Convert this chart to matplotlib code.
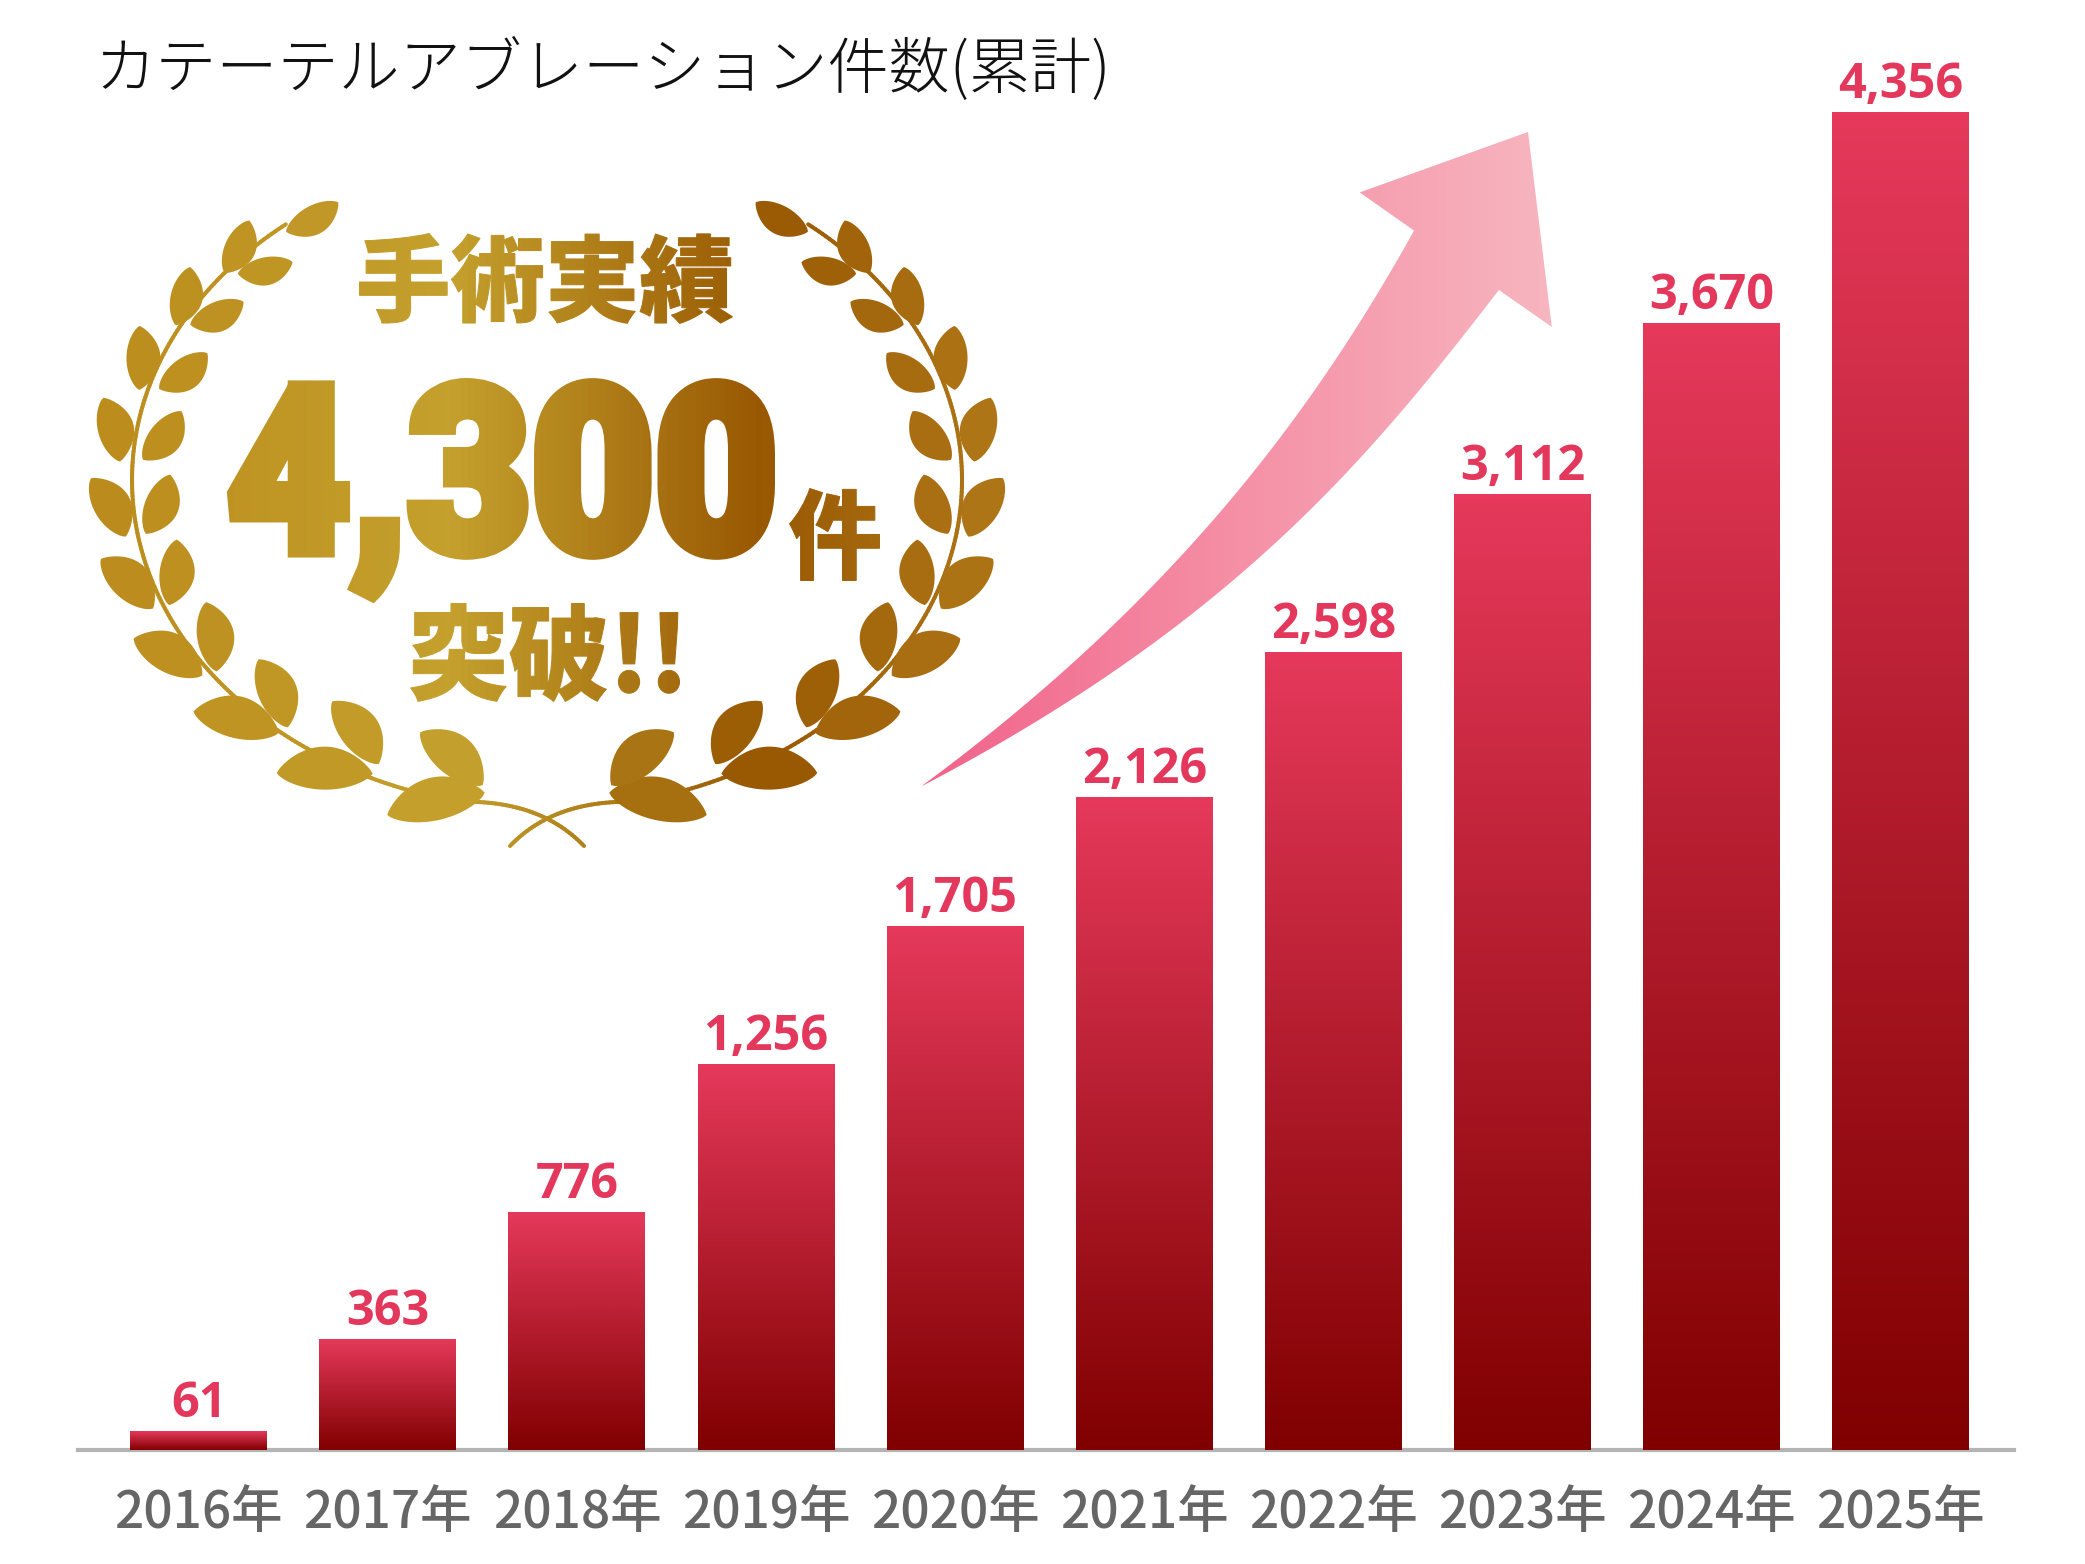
import matplotlib
matplotlib.use("Agg")
import matplotlib.pyplot as plt
import numpy as np
from matplotlib import patheffects
from matplotlib.collections import LineCollection
from matplotlib.colors import LinearSegmentedColormap, to_rgb
from matplotlib.font_manager import FontProperties
from matplotlib.patches import Polygon
from matplotlib.textpath import TextPath
from matplotlib.transforms import Affine2D, Bbox

W, H, DPI = 2085, 1564, 100

# chart data
years = ["2016年", "2017年", "2018年", "2019年", "2020年",
         "2021年", "2022年", "2023年", "2024年", "2025年"]
cases = [61, 363, 776, 1256, 1705, 2126, 2598, 3112, 3670, 4356]

title = "カテーテルアブレーション件数(累計)"
badge_top = "手術実績"
badge_num = "4,300"
badge_unit = "件"
badge_bottom = "突破!!"

plt.rcParams["font.family"] = ["Noto Sans CJK JP", "DejaVu Sans"]

# gold gradient across the badge (pixel x -> colour)
gold_x = [91, 450, 760, 1003]
gold_c = [to_rgb(c) for c in ["#bb8b1c", "#c4a02d", "#985802", "#b07818"]]


def gold(xv):
    return tuple(float(np.interp(xv, gold_x, [c[i] for c in gold_c])) for i in range(3))


class GoldFill(patheffects.AbstractPathEffect):
    """stretch glyphs vertically around the baseline and paint them in gold strips"""

    def __init__(self, sy, ya, lw_px, strip=6):
        super().__init__()
        self.sy, self.ya, self.lw, self.strip = sy, ya, lw_px, strip

    def draw_path(self, renderer, gc, tpath, affine, rgbFace=None):
        aff = affine + Affine2D().translate(0, -self.ya).scale(1, self.sy).translate(0, self.ya)
        for x0 in range(60, 1060, self.strip):
            c = gold(x0 + self.strip / 2)
            gc0 = renderer.new_gc()
            gc0.copy_properties(gc)
            gc0.set_foreground(c)
            gc0.set_linewidth(self.lw * 72 / DPI)
            gc0.set_joinstyle("miter")
            gc0.set_clip_rectangle(Bbox([[x0, 0], [x0 + self.strip, H]]))
            renderer.draw_path(gc0, tpath, aff, c)
            gc0.restore()


fig = plt.figure(figsize=(W / DPI, H / DPI), dpi=DPI)
deco = fig.add_axes([0, 0, 1, 1])
deco.axis("off")

ax = fig.add_axes([77.7 / W, (H - 1450) / H, (2014 - 77.7) / W, 1371.9 / H])
ax.patch.set_alpha(0)

# ---- bars with vertical gradient
x = np.arange(len(cases))
bars = ax.bar(x, cases, width=0.724, color="#b31c2d", zorder=2)
bar_cmap = LinearSegmentedColormap.from_list("bar", ["#800000", "#e6395b"])
grad = np.linspace(0, 1, 256).reshape(-1, 1)
for rect in bars:
    x0, w, h = rect.get_x(), rect.get_width(), rect.get_height()
    im = ax.imshow(grad, extent=[x0, x0 + w, 0, h], origin="lower",
                   aspect="auto", cmap=bar_cmap, zorder=3)
    im.set_clip_path(rect)

for xi, v in zip(x, cases):
    ax.annotate(f"{v:,}", (xi, v), xytext=(0, 10), textcoords="offset points",
                ha="center", va="baseline", fontsize=35, color="#e3385c",
                fontfamily=["Open Sans", "Noto Sans", "DejaVu Sans"],
                fontweight="bold", zorder=4)

ax.set_xlim(-0.64, 9.6)
ax.set_ylim(0, 4467)
for s in ["left", "right", "top"]:
    ax.spines[s].set_visible(False)
ax.spines["bottom"].set_color("#b4b4b4")
ax.spines["bottom"].set_linewidth(3)
ax.set_yticks([])
ax.set_xticks(x, years)
ax.tick_params(axis="x", length=0, pad=27, labelsize=37, labelcolor="#666666")
for lab in ax.get_xticklabels():
    lab.set_fontweight("medium")

# ---- title
deco.text(94, 88, title, fontsize=44, color="#111111", ha="left", va="baseline",
          fontweight="light")

# ---- pink arrow
up_pts = np.array([(921.7, 785.6), (999.7, 727), (1095, 640), (1186, 553.6),
                   (1255.6, 467), (1351, 337), (1413.9, 230.6)])
lo_pts = np.array([(1498.4, 290), (1429, 380), (1351, 467), (1264, 553.6),
                   (1156, 640), (1030, 727), (952, 770), (921.7, 785.6)])


def smooth_edge(pts, n=60):
    ys = pts[:, 1]
    coef = np.polyfit(ys, pts[:, 0], 3)
    yy = np.linspace(ys[0], ys[-1], n)
    return np.column_stack([np.polyval(coef, yy), yy])


head = np.array([(1359.7, 192.4), (1528, 132), (1551.8, 326.9)])
arrow_verts = np.vstack([smooth_edge(up_pts), head, smooth_edge(lo_pts)])
arrow = Polygon(arrow_verts, closed=True, fc="none", ec="none")
deco.add_patch(arrow)
arrow_cmap = LinearSegmentedColormap.from_list("arrow", ["#f1628a", "#f590a6", "#f7b6c0"])
aim = deco.imshow(np.linspace(0, 1, 256).reshape(1, -1), extent=[920, 1556, 800, 128],
                  aspect="auto", cmap=arrow_cmap, zorder=1)
aim.set_clip_path(arrow)

# ---- laurel wreath
CX, CY, RA, RB = 547, 480, 415, 329


def ell(phi, rho=1.0):
    p = np.radians(phi)
    return CX + rho * RA * np.cos(p), CY - rho * RB * np.sin(p)


def leaf_poly(cx, cy, ang, L, Wd):
    t = np.linspace(-1, 1, 40)
    half = 0.5 * Wd * (1 - t ** 2) ** 0.8
    bend = 0.12 * Wd * (1 - t ** 2)
    along = t * L / 2
    xs = np.concatenate([along, along[::-1]])
    ys = np.concatenate([half + bend, (-half + bend)[::-1]])
    ca, sa = np.cos(ang), np.sin(ang)
    return np.column_stack([cx + xs * ca - ys * sa, cy + xs * sa + ys * ca])


def leaf_dir(phi, alpha, side):
    p = np.radians(phi)
    t = np.array([RA * np.sin(p), RB * np.cos(p)])
    t /= np.hypot(*t)
    n = np.array([RB * np.cos(p), -RA * np.sin(p)])
    n /= np.hypot(*n)
    a = np.radians(alpha)
    d = np.cos(a) * t + side * np.sin(a) * n
    return np.arctan2(d[1], d[0])


leaf_phi = [136.5, 147.5, 159.3, 171.7, 184.5, 197.3, 210.5, 224.5, 239, 254.8]
rho_out = [1.03, 1.04, 1.05, 1.06, 1.06, 1.06, 1.06, 1.05, 1.04, 1.02]
rho_in = [0.936, 0.943, 0.937, 0.937, 0.94, 0.944, 0.939, 0.925, 0.896, 0.878]
len_out = [58, 60, 64, 66, 68, 72, 78, 88, 96, 100]
wid_out = [31, 32, 34, 36, 37, 39, 40, 42, 43, 43]
len_in = [56, 58, 60, 62, 64, 66, 70, 74, 78, 82]
wid_in = [28, 30, 32, 33, 34, 35, 37, 39, 40, 41]

leaves = []
cx, cy = ell(125.3, 0.979)
leaves.append(leaf_poly(cx, cy, leaf_dir(125.3, 0, 1), 60, 29))
for i, ph in enumerate(leaf_phi):
    cx, cy = ell(ph, rho_out[i])
    leaves.append(leaf_poly(cx, cy, leaf_dir(ph, 25, 1), len_out[i], wid_out[i]))
    cx, cy = ell(ph, rho_in[i])
    leaves.append(leaf_poly(cx, cy, leaf_dir(ph, 28, -1), len_in[i], wid_in[i]))

for lp in leaves:
    for pts in (lp, np.column_stack([2 * CX - lp[:, 0], lp[:, 1]])):
        deco.add_patch(Polygon(pts, closed=True, fc=gold(pts[:, 0].mean()), ec="none", zorder=3))

# stems
phis = np.linspace(129, 258, 200)
sx_, sy_ = ell(phis)
tt = np.linspace(0, 1, 40)[1:]
p0, p1, p2 = np.array([sx_[-1], sy_[-1]]), np.array([540, 800]), np.array([584, 846])
tail = ((1 - tt) ** 2)[:, None] * p0 + (2 * (1 - tt) * tt)[:, None] * p1 + (tt ** 2)[:, None] * p2
stem = np.vstack([np.column_stack([sx_, sy_]), tail])
for pts in (stem, np.column_stack([2 * CX - stem[:, 0], stem[:, 1]])):
    segs = np.stack([pts[:-1], pts[1:]], axis=1)
    cols = [gold(s[:, 0].mean()) for s in segs]
    deco.add_collection(LineCollection(segs, colors=cols, linewidths=2.9,
                                       capstyle="round", zorder=2))

# badge text fitted to its boxes (width from font size, height by stretching)
fp_cjk = FontProperties(family=["Noto Sans CJK JP"], weight="black")
fp_num = FontProperties(family=["Roboto", "DejaVu Sans"], weight="black")


def badge_text(s, box, prop, lw):
    x0, top, x1, bottom = box
    ext = TextPath((0, 0), s, size=100, prop=prop).get_extents()
    k = (x1 - x0 - lw) / ext.width
    sy = (bottom - top - lw) / (ext.height * k)
    xa = x0 + lw / 2 - ext.x0 * k
    base = top + lw / 2 + sy * ext.y1 * k
    p = prop.copy()
    p.set_size(100 * k * 72 / DPI)
    deco.text(xa, base, s, fontproperties=p, ha="left", va="baseline",
              color=gold((x0 + x1) / 2), zorder=4,
              path_effects=[GoldFill(sy, H - base, lw)])


badge_text(badge_top, (359, 233, 733, 324), fp_cjk, 1)
badge_text(badge_num, (227, 378, 775, 602), fp_num, 12)
badge_text(badge_unit, (789, 488, 880, 581), fp_cjk, 1)
badge_text(badge_bottom, (410, 603, 680, 702), fp_cjk, 1)

deco.set_xlim(0, W)
deco.set_ylim(H, 0)

fig.savefig("out.png", dpi=DPI)
